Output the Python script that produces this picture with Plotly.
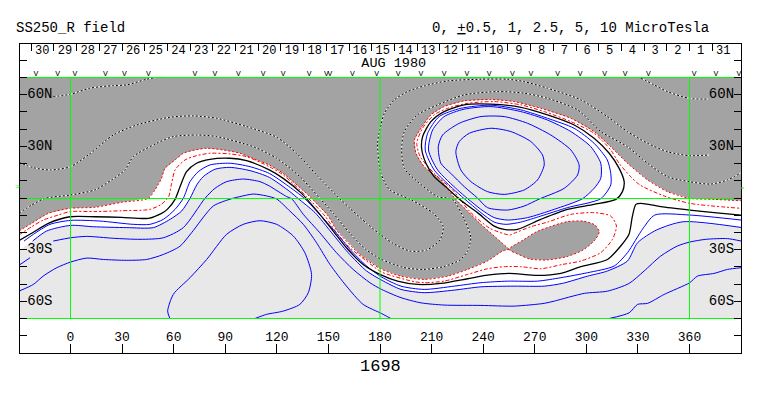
import plotly.graph_objects as go

FONT = "Liberation Mono"

# outer red contour, gray boundary (-0.5)
RO_W_LON = [-30,-22.6,-12.9,-0.3,14.2,29.8,45.3,49.1,52.9,54.9,60.8,65.6,72.4,79.2,88.9,98.6,108.3,115.6,123.7,139.2,149.9,154.7,168.3,179.9,191.6,205.7,219.3,230.9,242.5,251.3,255.1]
RO_W_LAT = [-19.2,-14.7,-8.9,-6,-5.4,-2.5,-0.2,4.7,11.4,17.2,22.1,26,27.9,28.9,27.9,26,22.1,19.2,14.3,0.8,-10.5,-18.6,-32.8,-40.9,-45.3,-47.3,-45.4,-41.5,-36.6,-30.8,-29.8]
RO_E_LON = [255.1,246.4,238.7,230.9,223.2,215.4,205.7,200.9,200,203.8,209.6,217.3,228.9,244.5,258,273.5,291,304.5,314.2,323.9,335.6,347.2,360.1,374.3,390]
RO_E_LAT = [-29.8,-22.1,-15.3,-7.6,0.2,10.5,18.2,26,33.7,40.5,48.3,53.1,56.4,57.2,56,52.1,46.3,38.6,29.8,20.2,10.5,3.7,-0.2,-0.8,-1.6]
RO_S_LON = [255.1,261.3,267.2,276.8,288.5,298.1,305,307.5,305,298.1,288.5,278.8,271,263.3,255.1]
RO_S_LAT = [-29.8,-33.1,-35.5,-36,-34.1,-30.2,-24.4,-19.6,-15.7,-13.4,-13.8,-16.7,-19.6,-24.4,-29.8]

# inner red contour (+0.5)
RI_LON = [-30,-22.6,-15.8,-7.1,-0.3,14.2,29.8,43.3,46.2,52.2,56.9,58.8,60.8,66.6,73.4,81.1,92.7,102.4,115.6,123.7,137.3,148,154.7,162.5,172.2,180.9,199.9,205.7,217.3,230.9,242.5,252.2,261.9,273.5,286.1,296.7,308.3,315.2,317.5,314.2,304.5,291,277.4,267.7,258,255.5,243.9,232.3,222.2,211.5,203.4,201.4,204.7,211.5,219.3,230.9,246.4,261.9,275.5,291,304.5,314.2,319,325.8,331.1,345.2,360.1,390]
RI_LAT = [-21.5,-16.7,-12.8,-9.9,-7.9,-7.9,-7.4,-7,-6.6,-4.1,0.4,8.5,16.3,22.1,24.6,26,25.6,24,18.2,13.4,0.8,-10.5,-20.2,-28.9,-36.6,-43,-48.6,-49.2,-48.3,-44.4,-41.1,-39.9,-39.9,-41.1,-38.6,-36.6,-31.8,-24,-16.3,-10.5,-8.5,-9.5,-14,-16.7,-20.5,-21.5,-17.6,-7.9,4.7,14.3,24,31.8,40.5,48.3,52.1,55,56,54.1,50.2,44.4,37.6,27.9,20.2,12.4,7.6,1.2,-3.1,-6]

# black zero contours
KS_LON = [-30,-22.6,-12.9,-0.3,14.2,29.8,45.3,53,56.3,60.8,63.7,67.5,73.3,81.1,92.7,102.4,115.6,123.7,134.4,145,152.8,160.5,170.2,180.9,190.2,201.8,215.4,230.9,242.5,255.1,271.6,285.2,296.7,312.3,320,324.8,326.8,328.8,331.7,343.3,360.1,374.3,390]
KS_LAT = [-24.8,-20.5,-14.7,-10.9,-10.9,-11.2,-11.8,-8.9,-6.6,-0.8,6.6,15.3,20.2,22.5,23.1,21.7,16.3,11.4,2.7,-9.5,-19.2,-28.9,-38.6,-44.8,-48.3,-50.2,-49.6,-46.9,-44.8,-43.8,-45,-43.8,-39.9,-35.7,-27.9,-21.1,-10.5,-3.7,-3.1,-5,-7,-8.5,-9.9]
KN_LON = [317.2,321,322,319.1,313.3,304.5,293,277.4,261.9,244.5,229,217.3,209.6,204.8,204.2,206.7,211.5,219.3,226,236.7,246.4,252.2,259.9,273.5,289,304.5,317.2]
KN_LAT = [-0.8,3.7,9.5,17.2,26,34.7,42.4,48.3,52.7,54.5,54.1,50.2,44.4,35.7,28.9,20.2,12.4,5.6,-0.6,-8.5,-16.3,-18.2,-18.2,-12.4,-6.6,-3.7,-0.8]

# blue contours, northern lobe
B1_LON = [206.3,207.7,214.4,227,244.5,261.9,277.4,292.9,304.5,312.2,314.2,314.2,308.4,289,273.5,261.9,253.2,246.4,238.7,229,222.2,211.5,206.3]
B1_LAT = [27.9,37.6,47.3,52.1,53.9,51.2,46.3,40.5,31.8,22.1,14.3,7.6,-0.4,-5.6,-10.5,-14,-15.3,-14,-8.5,-0.4,5.6,16.3,27.9]
B2_LON = [208.2,210.6,217.3,228.9,244.5,261.9,277.4,291,302.6,308.4,308.4,304.5,297.8,281.3,265.8,254.2,246.4,238.7,231,225.1,213.5,208.2]
B2_LAT = [27.9,39.5,47.3,51.6,53.1,50.2,45.3,38.6,29.8,20.2,11.4,5.6,-0.4,-6.6,-11.4,-12.8,-11.4,-6.6,-0.4,4.7,16.3,27.9]
B3_LON = [213.9,216.4,226.1,238.7,252.2,265.8,279.3,291,295.8,294.9,287.1,272.6,263.8,254.2,242.5,236.7,229,221.2,215.4,213.9]
B3_LAT = [29.8,36.6,43.4,47.3,47.3,43.4,36.6,27.9,19.2,13.4,5.6,-0.6,-4.7,-7,-5.6,0,6.6,14.3,20.2,29.8]
B4_LON = [224.1,226.1,231.9,244.5,256.1,267.7,274.5,275.5,271.6,263.9,252.2,242.5,232.9,227,224.1]
B4_LAT = [26.9,32.8,37.6,40.5,38.6,32.8,25,19.2,10.5,4.7,2.1,3.7,9.5,16.3,26.9]

# blue contours, south
S1_LON = [-27,-21.6,-11.9,0.1,17.2,36.5,46.2,54,60.8,65.6,69.5,74.3,81.1,92.7,104.4,115.6,125.7,136.3,143.1,152.8,162.5,172.2,180.9,192.2,205.7,223.2,238.7,254.2,271.6,285.2,300.7,316.2,323.9,333,339.8,360.1,390]
S1_LAT = [-25,-21.1,-15.3,-13,-13.4,-15.3,-15.3,-12.4,-6.6,-0.2,9.5,15.3,19.2,20.2,18.2,14.3,7.6,-0.4,-7.6,-18.2,-29.8,-39.5,-45.9,-51.2,-53.1,-51.2,-49.2,-48.3,-48.3,-46.3,-43.4,-39.5,-31.8,-17.6,-9.9,-9.9,-12.8]
S2_LON = [-22,-13.9,0.1,13.3,32.7,48.2,57.9,64.6,69.5,73.4,77.2,84,92.7,104.4,115.6,127.6,132.5,142.2,151.9,161.5,172.2,180.9,192.2,205.7,223.2,238.7,258,275.5,286.1,300.7,312.3,323.9,329.8,340.8,356.3,390]
S2_LAT = [-25,-19.2,-15.9,-16.7,-17.2,-17.2,-12.4,-7.6,-0.2,7.6,12.4,16.7,17.8,15.9,12,3.7,-0.4,-8.5,-20.2,-31.8,-42.4,-47.7,-53.1,-55,-53.5,-51.6,-51.2,-51.2,-49.6,-45.4,-42.4,-36.6,-26,-18.6,-13.8,-17.1]
S3_LON = [-30,-23.5,None,-10,0.1,9.4,24.9,40.4,54,65.6,78.2,84,90.8,100.5,110.2,115.6,125.7,128.6,135.4,145,154.7,164.4,174.1,180.9,192.2,203.8,217.3,238.7,258,275.5,281.3,298.8,312.3,324.9,333.6,343.3,352.9,360.1,369.5,382.1,390]
S3_LAT = [-39.1,-34.7,None,-25,-23.1,-22.3,-23.4,-24,-23.1,-17.2,-0.2,5.6,9.5,11,9.5,7,0.8,-0.4,-9.5,-20.2,-31.8,-41.5,-49.2,-53.1,-57.9,-60.9,-62.2,-62.4,-62.8,-61.2,-59.9,-55.4,-54.1,-49.6,-42.4,-33.7,-27.9,-25.6,-24,-23.6,-25]
S4W_LON = [-30,-21.6,-15.8,-8,0.1,9.4,19.1,32.7,44.3,54,63.7,70.4,83,93.7,98.5,106.3,114,119.9,127.6,135.4,143.1,150.9,160.5,170.2,180.9,186.3]
S4W_LAT = [-54.1,-50.2,-45.3,-40.5,-37.2,-34.9,-35.7,-36.2,-35.7,-32.8,-28,-20.2,-4.7,-0.4,0.8,2.3,1.2,-0.6,-7.6,-15.3,-26,-38.6,-51.2,-61.8,-67.1,-70]
S4E_LON = [313.3,324.9,329.8,335.6,345.3,360.1,364.6,374.3,382.1,390]
S4E_LAT = [-70,-66.7,-61.8,-61.2,-56,-49.2,-45.4,-43.8,-41.5,-40.5]
S5_LON = [57.8,56.5,59.8,69.5,79.2,90.8,100.5,110.2,119.9,129.6,136.3,140.2,138.3,133.4,123.7,114,107.3]
S5_LAT = [-70,-65.7,-56,-46.3,-35.7,-21.1,-15.3,-13.2,-15.3,-22.1,-31.8,-44.4,-55,-61.8,-65.7,-67.6,-70]

# dotted contours in the gray region
D1W_LON = [-10,0.1,11.3,24.9,32.7,44.3,50.1,54.9]
D1W_LAT = [58.9,60.3,63.8,65.3,65.7,69,70,70]
D1E_LON = [331.7,339.4,347.2,359.8,371.4]
D1E_LAT = [69.6,65.7,61.8,57.9,57.4]
DA_LON = [-30,-22.6,-14.8,-0.3,14.2,23.9,31.7,36.5,50.1,59.8,73.4,85,106.3,119.9,133.4,145,152.8,162.5,172.2,180.5,193.5,205.1,216.8,226.5,230.9,232.8,229,222.2,213.5,201.8,194.1,192.6,194.1,201.8,213.5,229,248.3,263.8,277.4,294.9,308.4,323.9,335.6,347.2,359.8,372.4,382.1,390]
DA_LAT = [-8.9,-4.1,-0.2,1.7,4.7,10.5,16.3,24,31.8,35.7,36.6,35.7,29.8,23.1,12.4,-0.2,-8.9,-20.5,-30.2,-35.5,-40.3,-41.5,-39.9,-36,-30.8,-23,-12.4,-0.8,0.8,9.5,17.2,27.9,38.6,48.3,54.1,59.9,61.8,60.9,57.9,51.2,38.6,29.8,20.2,12.4,9.5,8.1,10.5,14.7]
DB_LON = [-30,-21.6,-11.9,0.1,10.4,24.9,38.5,57.8,71.4,85,102.4,119.9,131.5,143.1,156.7,162.5,172.2,180.5,187.7,197.4,207.1,214.8,216.8,211,198.4,185.8,180.5,178.6,180.5,182.5,188.3,196,205.7,219.3,238.7,254.2,263.8,277.4,296.8,312.2,323.9,335.6,347.2,359.8,371.4]
DB_LAT = [20.7,17.6,16.3,18.2,25,36.6,42.4,46.9,47.7,46.3,41.5,35.3,26,13.4,-0.4,-6,-14.7,-21.5,-26.4,-30.8,-30.2,-24.4,-16.7,-8.9,-1.2,4.7,14.3,31.8,42.4,49.2,57,61.8,65.1,68,69,69,67.6,63.8,57,47.3,38.6,31.8,26.9,24.6,25]

# fixed grid
GRID_LON = [0, 180, 360]
GRID_LAT = [-70, -0.3, 70]

# top date scale
DATE_LABELS = ["30","29","28","27","26","25","24","23","22","21","20","19","18","17","16","15","14","13","12","11","10","9","8","7","6","5","4","3","2","1","31"]
DATE_TICKS = [-22.8,-9.6,3.6,16.8,30,43.2,56.4,69.6,82.8,96,109.2,122.4,135.6,148.8,162,175.2,188.4,201.6,214.8,228,241.2,254.4,267.6,280.8,294,307.2,320.4,333.6,346.8,360,373.2]
DATE_LABEL_LON = [-16.4,-3.2,10,23.2,36.4,49.6,62.8,76,89.2,102.4,115.6,128.8,142,155.2,168.4,181.6,194.8,208,221.2,234.4,247.6,260.8,274,287.2,300.4,313.6,326.8,340,353.2,366.4,379.6]

# observation marks
OBS_LON = [-20.1,-7.5,2.6,20.3,31.3,45.3,72.4,84,97.6,112.1,123.7,138.8,148.9,150.9,163.9,178,190.6,203.8,217.3,230.5,243.5,257,267.8,283.3,296.4,310.7,322.6,336.1,362.7,375.3,388.8]

LON_TICKS = [0,30,60,90,120,150,180,210,240,270,300,330,360]
LAT_LABELS = ["60N","30N","30S","60S"]
LAT_VALUES = [60,30,-30,-60]

TITLE_LEFT = "SS250_R field"
TITLE_RIGHT = "0, <u>+</u>0.5, 1, 2.5, 5, 10 MicroTesla"
MONTH_LABEL = "AUG 1980"
ROTATION_LABEL = "1698"

GRAY = "#a3a3a3"
LIGHT = "#e8e8e8"
BLUE = "#0000ff"
RED = "#ff0000"
GREEN = "#00ff00"

fig = go.Figure()

def fill(lon, lat, color, shape="spline"):
    fig.add_trace(go.Scatter(x=lon, y=lat, mode="lines", fill="toself", fillcolor=color,
                             line=dict(width=0, shape=shape, smoothing=0.7), hoverinfo="skip", showlegend=False))

def line(lon, lat, color, width=1.0, dash="solid", shape="spline"):
    fig.add_trace(go.Scatter(x=lon, y=lat, mode="lines",
                             line=dict(color=color, width=width, dash=dash, shape=shape, smoothing=0.7),
                             hoverinfo="skip", showlegend=False))

def text(lon, lat, labels, size, color="black"):
    fig.add_trace(go.Scatter(x=lon, y=lat, mode="text", text=labels, textposition="middle center",
                             textfont=dict(family=FONT, size=size, color=color),
                             hoverinfo="skip", showlegend=False))

def note(txt, px, py, size, anchor="left", color="black"):
    return dict(text=txt, x=(px - 20) / 721, y=(353 - py) / 309, xref="paper", yref="paper", showarrow=False,
                xanchor=anchor, yanchor="middle", borderpad=0, font=dict(family=FONT, size=size, color=color))

# filled zones
fill([-30, 390] + RO_E_LON[::-1] + RO_W_LON[::-1], [70, 70] + RO_E_LAT[::-1] + RO_W_LAT[::-1], GRAY, "linear")
fill(RO_S_LON, RO_S_LAT, GRAY)
fill([-30, -30] + S2_LON + [390], [-70, -30.8] + S2_LAT + [-70], LIGHT, "linear")
fill(B2_LON, B2_LAT, LIGHT)

# dotted negative contours
for lon, lat in [(D1W_LON, D1W_LAT), (D1E_LON, D1E_LAT), (DA_LON, DA_LAT), (DB_LON, DB_LAT)]:
    line(lon, lat, "white", 1.0)
    line(lon, lat, "black", 1.0, "2px,2px")

# red
for lon, lat in [(RO_W_LON, RO_W_LAT), (RO_E_LON, RO_E_LAT), (RO_S_LON, RO_S_LAT)]:
    line(lon, lat, RED, 1.0, "2px,2px")
line(RI_LON, RI_LAT, RED, 1.0, "4px,2px,2px,2px")

# blue
for lon, lat in [(B1_LON, B1_LAT), (B2_LON, B2_LAT), (B3_LON, B3_LAT), (B4_LON, B4_LAT),
                 (S1_LON, S1_LAT), (S2_LON, S2_LAT), (S3_LON, S3_LAT), (S4W_LON, S4W_LAT),
                 (S4E_LON, S4E_LAT), (S5_LON, S5_LAT)]:
    line(lon, lat, BLUE, 1.0)

# black
line(KS_LON, KS_LAT, "black", 1.3)
line(KN_LON, KN_LAT, "black", 1.3)

# green grid
for v in GRID_LON:
    line([v, v], [GRID_LAT[0], GRID_LAT[-1]], GREEN, 1.0, shape="linear")
for v in GRID_LAT:
    line([-30, 390], [v, v], GREEN, 1.0, shape="linear")

# labels inside the frame
text(LON_TICKS, [-81.2] * len(LON_TICKS), [str(v) for v in LON_TICKS], 13)
text([-17.8] * 4, LAT_VALUES, LAT_LABELS, 14)
text([378.6] * 4, LAT_VALUES, LAT_LABELS, 14)
text(DATE_LABEL_LON, [85.2] * len(DATE_LABELS), DATE_LABELS, 12)
text(OBS_LON, [71.8] * len(OBS_LON), ["V"] * len(OBS_LON), 8)
text([188], [78.2], [MONTH_LABEL], 13.5)

# trace carrying the top axis
fig.add_trace(go.Scatter(x=[-29, 389], y=[0, 0], xaxis="x2", mode="lines", line=dict(width=0),
                         opacity=0, hoverinfo="skip", showlegend=False))

axis_common = dict(showgrid=False, zeroline=False, showline=True, linecolor="black", linewidth=1,
                   tickcolor="black", tickwidth=1, showticklabels=False, ticks="inside")
XRANGE = [-29.37, 389.95]
fig.update_layout(
    width=763, height=396, autosize=False, showlegend=False,
    margin=dict(l=20, r=22, t=44, b=43, pad=0),
    plot_bgcolor="white", paper_bgcolor="white",
    xaxis=dict(range=XRANGE, tickmode="array", tickvals=LON_TICKS, ticklen=9, **axis_common),
    xaxis2=dict(range=XRANGE, overlaying="x", side="top", anchor="y", tickmode="array",
                tickvals=DATE_TICKS, ticklen=7, **axis_common),
    yaxis=dict(range=[-90.04, 89.46], tickmode="linear", tick0=0, dtick=10, ticklen=7, mirror="ticks", **axis_common),
    annotations=[
        note(TITLE_LEFT, 15, 28, 14),
        note(TITLE_RIGHT, 431, 28, 14),
        note(ROTATION_LABEL, 380.5, 366, 17, "center"),
        note(">", 17, 186, 8, "center", GREEN),
    ],
    shapes=[dict(type="line", xref="paper", yref="y", x0=1.0, x1=1.004, y0=5.8, y1=5.8,
                 line=dict(color=GREEN, width=1))],
)

fig.write_html("out.html", config={"displayModeBar": False},
               post_script="document.body.style.margin='0';document.body.style.overflow='hidden';")
